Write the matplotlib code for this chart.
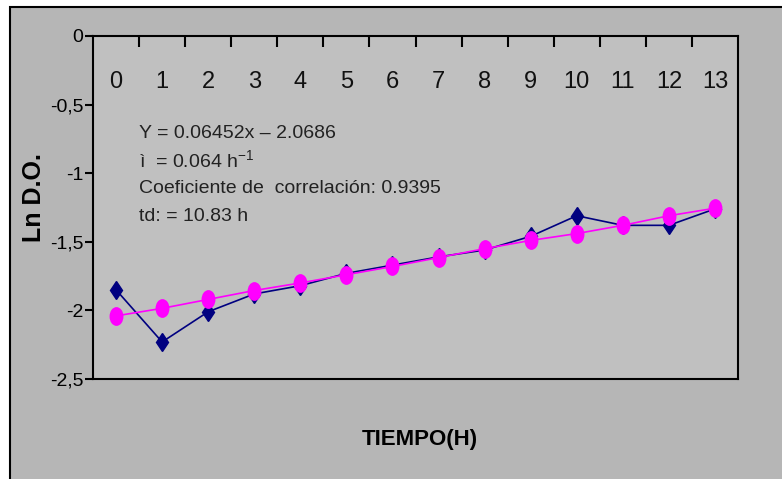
import numpy as np
import matplotlib
matplotlib.use("Agg")
import matplotlib.pyplot as plt
from matplotlib.path import Path
from matplotlib.patches import Rectangle

# -------------------------------------------------------------
# data

horas = list(range(14))
ln_do = [-1.85, -2.23, -2.01, -1.88, -1.82, -1.73, -1.67,
         -1.61, -1.56, -1.46, -1.31, -1.38, -1.38, -1.26]
ajuste = [-2.04, -1.985, -1.92, -1.855, -1.80, -1.74, -1.68,
          -1.615, -1.55, -1.49, -1.44, -1.38, -1.31, -1.255]

y_ticks = [0, -0.5, -1, -1.5, -2, -2.5]
y_labels = ["0", "-0,5", "-1", "-1,5", "-2", "-2,5"]

texto = ["Y = 0.06452x \u2013 2.0686",
         "\u00ec  = 0.064 h$^{-1}$",
         "Coeficiente de  correlaci\u00f3n: 0.9395",
         "td: = 10.83 h"]

# -------------------------------------------------------------

plt.rcParams["font.family"] = ["Liberation Sans", "DejaVu Sans"]
plt.rcParams["mathtext.fontset"] = "custom"
plt.rcParams["mathtext.rm"] = "Liberation Sans"

fig = plt.figure(figsize=(7.82, 4.79), dpi=100)
fig.patch.set_facecolor("white")

# chart frame (only its top and left edges fall inside the image)
fig.patches.append(Rectangle((10 / 782, -0.05), 1.1, 1.05 - 7 / 479,
                             transform=fig.transFigure, facecolor="#b6b6b6",
                             edgecolor="black", linewidth=1.5, zorder=-10))

ax = fig.add_axes([93 / 782, 1 - 379 / 479, 645 / 782, 343 / 479])
ax.set_facecolor("#c0c0c0")
for s in ax.spines.values():
    s.set_linewidth(1.5)
    s.set_color("black")

# vertical ellipse marker
circ = Path.unit_circle()
elipse = Path(circ.vertices * np.array([0.72, 1.0]), circ.codes)

ax.plot(horas, ln_do, color="#000080", linewidth=1.2, marker="d",
        markersize=9.5, markerfacecolor="#000080", markeredgecolor="#000080",
        zorder=3)
ax.plot(horas, ajuste, color="#ff00ff", linewidth=1.2, marker=elipse,
        markersize=12.5, markerfacecolor="#ff00ff", markeredgecolor="#ff00ff",
        zorder=4)

ax.set_xlim(-0.5, 13.5)
ax.set_ylim(-2.5, 0)

# x axis on top: ticks between categories, numbers inside the plot
ax.xaxis.tick_top()
ax.set_xticks(np.arange(0.5, 13.5, 1))
ax.set_xticklabels([])
ax.tick_params(axis="x", direction="in", length=8, width=1.5, top=True, bottom=False)
for h in horas:
    ax.text(h, 0.866, str(h), transform=ax.get_xaxis_transform(),
            ha="center", va="center", fontsize=17, color="#111111")

ax.set_yticks(y_ticks)
ax.set_yticklabels(y_labels, fontsize=14)
ax.tick_params(axis="y", direction="out", length=6, width=1.5, pad=1)

for i, t in enumerate(texto):
    ax.text(46 / 645, 1 - (97 + 27.7 * i) / 343, t, transform=ax.transAxes,
            ha="left", va="center", fontsize=14, color="#222222")

ax.set_ylabel("Ln D.O.", fontsize=18, fontweight="bold")
ax.yaxis.set_label_coords(-47 / 645, 0.53)
fig.text(420 / 782, 1 - 440 / 479, "TIEMPO(H)", ha="center", va="center",
         fontsize=16, fontweight="bold")

fig.savefig("out.png", dpi=100, facecolor=fig.get_facecolor())
